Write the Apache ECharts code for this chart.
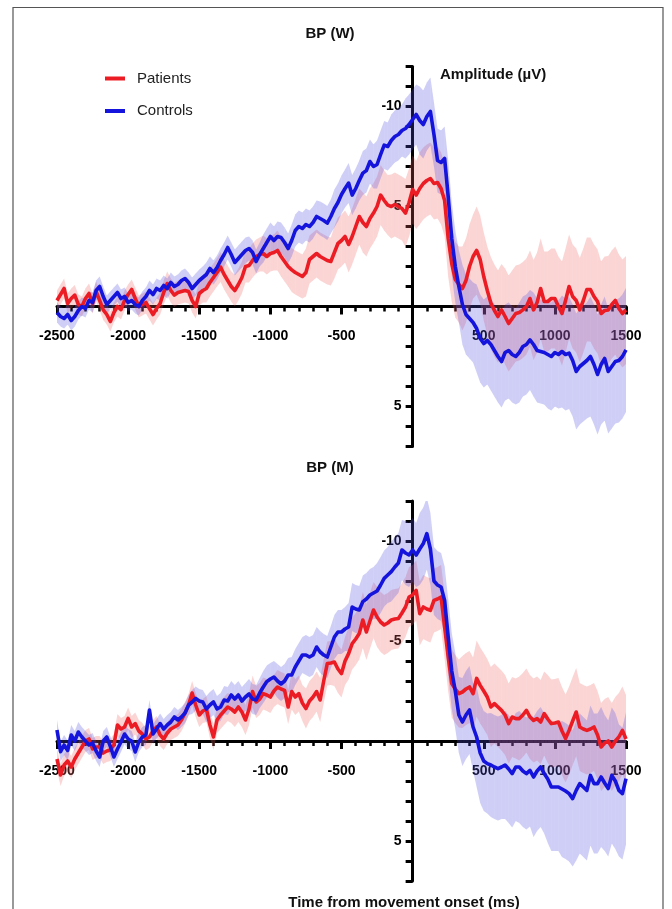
<!DOCTYPE html>
<html>
<head>
<meta charset="utf-8">
<script src="https://cdn.jsdelivr.net/npm/echarts@6/dist/echarts.min.js"></script>
<style>html,body{margin:0;padding:0;background:#fff}#c{width:672px;height:909px}</style>
</head>
<body>
<div id="c"></div>
<script>
// time grid (ms from movement onset)
const times = [
-2500,-2475,-2450,-2425,-2400,-2375,-2350,-2325,-2300,-2275,
-2250,-2225,-2200,-2175,-2150,-2125,-2100,-2075,-2050,-2025,
-2000,-1975,-1950,-1925,-1900,-1875,-1850,-1825,-1800,-1775,
-1750,-1725,-1700,-1675,-1650,-1625,-1600,-1575,-1550,-1525,
-1500,-1475,-1450,-1425,-1400,-1375,-1350,-1325,-1300,-1275,
-1250,-1225,-1200,-1175,-1150,-1125,-1100,-1075,-1050,-1025,
-1000,-975,-950,-925,-900,-875,-850,-825,-800,-775,
-750,-725,-700,-675,-650,-625,-600,-575,-550,-525,
-500,-475,-450,-425,-400,-375,-350,-325,-300,-275,
-250,-225,-200,-175,-150,-125,-100,-75,-50,-25,
0,25,50,75,100,125,150,175,200,225,
250,275,300,325,350,375,400,425,450,475,
500,525,550,575,600,625,650,675,700,725,
750,775,800,825,850,875,900,925,950,975,
1000,1025,1050,1075,1100,1125,1150,1175,1200,1225,
1250,1275,1300,1325,1350,1375,1400,1425,1450,1475,
1500];

// BP (W) – Patients mean (µV)
const wPatients = [
-0.3,-0.6,-0.9,-0.15,-0.4,-0.57,-0.1,0.0,-0.4,-0.65,
-0.15,-0.75,-0.3,0.17,0.4,0.75,0.3,0.0,0.15,-0.3,
-0.6,-0.85,-0.4,0.0,-0.1,-0.2,0.1,0.4,0.1,-0.15,
-0.7,-1.15,-0.8,-0.57,-0.7,-0.75,-0.8,-0.75,-0.3,0.0,
-0.65,-0.8,-0.9,-1.2,-1.45,-1.7,-1.97,-1.6,-1.3,-1.0,
-0.8,-1.1,-1.45,-2.0,-2.05,-2.3,-2.5,-2.6,-2.65,-2.5,
-2.65,-2.7,-2.8,-2.5,-2.25,-2.0,-1.83,-1.7,-1.6,-1.5,
-1.7,-2.35,-2.5,-2.65,-2.5,-2.4,-2.3,-2.25,-2.7,-3.15,
-3.3,-3.5,-3.1,-3.5,-4.0,-4.5,-4.2,-4.0,-4.4,-4.67,
-5.0,-5.57,-5.3,-5.07,-5.0,-5.1,-5.0,-4.9,-4.67,-5.2,
-5.85,-5.57,-5.9,-6.15,-6.3,-6.4,-6.15,-6.2,-5.9,-5.3,
-3.4,-2.15,-1.35,-1.1,-0.9,-1.3,-2.0,-2.5,-2.8,-2.35,
-1.5,-0.8,-0.17,0.2,0.5,0.17,0.5,0.85,0.6,0.35,
0.3,0.17,0.0,-0.4,0.17,-0.2,-0.9,-0.25,-0.25,-0.4,
-0.4,0.0,0.35,-0.3,-1.0,-0.5,-0.3,0.17,-0.3,-0.85,
-0.85,-0.5,-0.25,0.35,0.2,0.17,-0.1,-0.3,0.1,0.35,
0.17];

// BP (W) – Controls mean (µV)
const wControls = [
0.3,0.5,0.6,0.4,0.7,0.5,0.2,0.0,0.1,-0.3,
-0.2,-0.8,-1.0,-0.5,-0.1,-0.3,-0.5,-0.7,-0.4,-0.5,
-0.2,-0.3,-0.1,0.0,-0.3,-0.5,-0.8,-0.6,-0.9,-0.8,
-1.05,-0.9,-1.2,-1.0,-1.1,-1.3,-1.4,-1.2,-0.9,-1.1,
-1.3,-1.45,-1.6,-1.9,-1.7,-1.95,-2.3,-2.6,-2.95,-2.6,
-2.2,-2.4,-2.6,-2.8,-2.9,-2.7,-2.25,-2.6,-2.9,-3.2,
-3.5,-3.3,-3.5,-3.45,-3.2,-2.9,-3.3,-3.8,-4.0,-3.9,
-4.1,-4.0,-4.2,-4.5,-4.4,-4.3,-4.17,-4.5,-4.9,-5.2,
-5.6,-5.9,-6.17,-5.57,-5.9,-6.3,-6.67,-6.8,-7.25,-7.0,
-7.1,-7.6,-8.07,-8.0,-8.3,-8.5,-8.6,-8.8,-8.9,-9.1,
-9.35,-9.6,-9.3,-9.1,-9.5,-9.75,-8.6,-7.3,-7.2,-7.4,
-5.5,-3.4,-2.0,-1.0,-0.1,0.4,0.6,0.8,1.1,1.6,
1.85,1.7,1.9,2.2,2.5,2.75,2.3,2.2,2.4,2.5,
2.3,2.0,1.9,1.67,1.9,2.2,2.25,2.3,2.4,2.5,
2.3,2.4,2.25,2.4,2.33,2.7,3.25,3.0,2.85,2.7,
2.5,2.9,3.4,2.9,2.6,3.25,3.0,2.75,2.7,2.5,
2.17];

// BP (M) – Patients mean (µV)
const mPatients = [
0.9,1.7,1.2,1.0,1.3,0.9,0.6,0.3,0.0,-0.1,
0.4,0.3,0.3,0.6,0.5,0.45,0.2,-0.8,-0.6,-0.7,
-1.13,-0.7,-0.87,-0.5,-0.35,-0.1,-0.2,-0.5,-0.7,-0.3,
-0.1,-0.4,-0.6,-0.7,-0.8,-1.05,-1.4,-1.8,-2.4,-1.8,
-1.3,-1.5,-1.6,-0.8,-0.2,-1.05,-1.3,-1.5,-1.7,-1.6,
-1.45,-1.7,-1.45,-1.05,-1.6,-2.47,-1.95,-2.1,-2.37,-2.3,
-2.2,-2.5,-2.7,-2.6,-2.53,-1.7,-2.47,-2.2,-2.37,-1.9,
-1.62,-2.0,-2.2,-2.47,-2.05,-3.0,-3.87,-3.9,-3.95,-3.6,
-3.37,-4.0,-4.37,-4.87,-5.1,-5.37,-6.05,-5.45,-6.0,-6.55,
-6.2,-5.95,-5.8,-5.9,-6.05,-6.1,-6.13,-6.4,-6.7,-7.2,
-7.3,-7.53,-6.37,-6.7,-6.6,-6.53,-7.03,-7.1,-7.2,-5.7,
-4.2,-2.87,-2.6,-2.37,-2.45,-2.6,-2.7,-2.37,-3.13,-2.78,
-2.5,-2.2,-1.7,-1.87,-1.7,-1.53,-1.3,-0.87,-1.2,-1.12,
-1.12,-1.3,-1.53,-1.2,-1.03,-1.12,-0.95,-1.37,-1.1,-0.87,
-0.9,-0.95,-0.5,-0.12,-0.53,-1.0,-1.45,-0.7,-0.6,-0.53,
-0.6,-0.7,-0.3,0.3,0.1,0.0,0.3,0.0,-0.2,-0.53,
-0.1];

// BP (M) – Controls mean (µV)
const mControls = [
-0.55,0.53,0.2,0.47,-0.3,0.0,-0.45,-0.2,0.0,0.2,
0.1,0.5,0.8,0.0,-0.2,0.27,0.8,0.4,0.05,-0.35,
-0.1,0.0,0.55,0.05,-0.2,-0.3,-1.55,-0.35,-0.6,-0.87,
-0.6,-0.8,-0.95,-1.2,-1.05,-1.2,-1.4,-1.8,-1.95,-2.13,
-2.0,-1.95,-1.6,-1.8,-1.95,-1.6,-1.7,-2.05,-2.0,-2.3,
-2.1,-2.3,-2.0,-2.2,-2.35,-2.1,-2.05,-2.4,-2.7,-2.97,
-3.1,-3.2,-3.0,-2.85,-3.0,-3.3,-3.3,-3.7,-4.0,-4.3,
-4.3,-4.2,-4.3,-4.7,-4.45,-4.3,-4.2,-4.7,-5.2,-5.45,
-5.45,-5.6,-5.7,-6.7,-6.6,-6.55,-6.97,-7.1,-7.3,-7.4,
-7.5,-7.8,-8.13,-8.3,-8.47,-8.7,-8.9,-9.55,-9.4,-9.3,
-9.55,-9.3,-9.6,-9.87,-10.37,-9.6,-8.0,-7.8,-7.7,-7.03,
-5.2,-3.5,-2.5,-1.3,-0.95,-1.3,-1.55,-0.7,-0.2,0.6,
1.0,1.13,1.2,1.3,1.38,1.3,1.2,1.4,1.63,1.3,
1.3,1.5,1.63,1.47,1.8,1.5,1.3,1.63,1.9,2.3,
2.3,2.3,2.4,2.5,2.63,2.88,2.47,2.13,2.3,2.47,
1.72,2.13,2.13,1.8,2.1,2.38,1.72,2.0,2.47,2.63,
1.88];

// SEM half-widths (µV), one per 100 ms block
const semTimes = [-2500,-2400,-2300,-2200,-2100,-2000,-1900,-1800,-1700,-1600,
-1500,-1400,-1300,-1200,-1100,-1000,-900,-800,-700,-600,
-500,-400,-300,-200,-100,0,100,200,300,400,
500,600,700,800,900,1000,1100,1200,1300,1400,1500];
const wPatientsSem = [0.5,0.5,0.5,0.5,0.5,0.5,0.55,0.55,0.6,0.6,
0.6,0.7,0.75,0.8,0.85,0.9,1.0,1.1,1.2,1.2,
1.3,1.4,1.5,1.5,1.6,1.7,1.8,1.8,1.9,2.1,
2.2,2.3,2.4,2.4,2.5,2.5,2.6,2.6,2.6,2.7,2.7];
const wControlsSem = [0.5,0.5,0.45,0.5,0.45,0.45,0.45,0.5,0.5,0.5,
0.55,0.6,0.6,0.65,0.6,0.7,0.75,0.8,0.8,0.85,
0.95,1.0,1.1,1.2,1.3,1.5,1.7,1.6,1.8,2.0,
2.2,2.3,2.4,2.5,2.6,2.7,2.8,2.9,3.0,3.1,3.1];
const mPatientsSem = [0.55,0.55,0.55,0.55,0.55,0.55,0.55,0.55,0.55,0.55,
0.6,0.65,0.7,0.75,0.8,0.8,0.85,0.9,1.0,1.1,
1.2,1.3,1.4,1.5,1.5,1.5,1.6,1.6,1.7,1.8,
1.9,2.0,2.0,2.1,2.1,2.2,2.2,2.2,2.2,2.2,2.2];
const mControlsSem = [0.5,0.5,0.5,0.5,0.5,0.5,0.5,0.5,0.5,0.5,
0.6,0.65,0.7,0.7,0.75,0.8,0.85,0.9,1.0,1.05,
1.1,1.2,1.3,1.4,1.5,1.6,1.8,1.7,1.9,2.2,
2.5,2.6,2.7,2.8,3.0,3.2,3.4,3.5,3.5,3.4,3.3];

const xTicks = {min: -2500, max: 1500, step: 500};
const yRange = {min: -12, max: 7, step: 1};

const RED = '#ec1c24', BLUE = '#1414dc';
const RED_BAND = 'rgba(240,95,95,0.27)', BLUE_BAND = 'rgba(80,80,228,0.28)';
const FONT = '"Liberation Sans", Arial, sans-serif';
const GRID_W = 569, GRID_H = 380;

function semAt(sem, t) { return sem[Math.round((t - semTimes[0]) / 100)]; }
function pairs(vals) { return times.map((t, i) => [t, vals[i]]); }

// mean ± SEM band, drawn as one quad per time step through the axis scales
function bandSeries(vals, sem, color, gi) {
  const data = times.slice(0, -1).map((t, i) => {
    const t2 = times[i + 1];
    return [t, t2, vals[i] - semAt(sem, t), vals[i] + semAt(sem, t),
            vals[i + 1] - semAt(sem, t2), vals[i + 1] + semAt(sem, t2)];
  });
  return {type: 'custom', xAxisIndex: gi, yAxisIndex: gi, silent: true, clip: true, animation: false,
    data: data, encode: {x: [0, 1], y: [2, 3, 4, 5]},
    renderItem: (params, api) => {
      const a = api.coord([api.value(0), api.value(2)]);
      const b = api.coord([api.value(0), api.value(3)]);
      const c = api.coord([api.value(1), api.value(5)]);
      const d = api.coord([api.value(1), api.value(4)]);
      return {type: 'polygon', shape: {points: [a, b, c, d]}, style: {fill: color}};
    }};
}
function lineSeries(vals, name, color, gi) {
  return {type: 'line', name: name, data: pairs(vals), xAxisIndex: gi, yAxisIndex: gi,
    symbol: 'none', showSymbol: false, color: color,
    lineStyle: {color: color, width: 3.6, join: 'round'}, emphasis: {disabled: true}, animation: false};
}
// axes cross at (0 ms, 0 µV): shift them from the grid edges to the zero lines
const xShift = -(yRange.max - 0) / (yRange.max - yRange.min) * GRID_H;
const yShift = -(0 - xTicks.min) / (xTicks.max - xTicks.min) * GRID_W;
function xAxis(gi) {
  return {gridIndex: gi, type: 'value', position: 'bottom', offset: xShift,
    min: xTicks.min, max: xTicks.max, interval: xTicks.step,
    axisLine: {show: true, onZero: false, lineStyle: {color: '#000', width: 3}},
    axisTick: {show: true, length: 8, lineStyle: {color: '#000', width: 3}},
    minorTick: {show: true, splitNumber: 5, length: 5, lineStyle: {color: '#000', width: 2.5}},
    splitLine: {show: false}, minorSplitLine: {show: false},
    axisLabel: {margin: 23, color: '#000', fontFamily: FONT, fontWeight: 'bold', fontSize: 14,
      formatter: v => v === 0 ? '' : String(v)}};
}
function yAxis(gi) {
  return {gridIndex: gi, type: 'value', position: 'left', offset: yShift, inverse: true,
    min: yRange.min, max: yRange.max, interval: yRange.step,
    axisLine: {show: true, onZero: false, lineStyle: {color: '#000', width: 3}},
    axisTick: {show: true, length: 7, lineStyle: {color: '#000', width: 3}},
    splitLine: {show: false},
    axisLabel: {margin: 11, color: '#000', fontFamily: FONT, fontWeight: 'bold', fontSize: 14,
      formatter: v => (v !== 0 && v % 5 === 0) ? String(v) : ''}};
}
const titleStyle = {fontSize: 15, fontWeight: 'bold', fontFamily: FONT, color: '#111'};

const chart = echarts.init(document.getElementById('c'), null, {renderer: 'canvas'});
chart.setOption({
  backgroundColor: '#fff',
  animation: false,
  title: [
    {text: 'BP (W)', left: 330, top: 26.5, textAlign: 'center', padding: 0, textStyle: titleStyle},
    {text: 'BP (M)', left: 330, top: 460.5, textAlign: 'center', padding: 0, textStyle: titleStyle},
    {text: 'Amplitude (µV)', left: 440, top: 67.5, textAlign: 'left', padding: 0, textStyle: titleStyle},
    {text: 'Time from movement onset (ms)', left: 404, top: 895.5, textAlign: 'center', padding: 0, textStyle: titleStyle}
  ],
  legend: {left: 105, top: 71, orient: 'vertical', padding: 0, itemWidth: 20, itemHeight: 4, itemGap: 17.5,
    textStyle: {fontSize: 15, fontFamily: FONT, color: '#222', padding: [0, 0, 0, 7]},
    data: [{name: 'Patients', icon: 'rect'}, {name: 'Controls', icon: 'rect'}], selectedMode: false},
  grid: [
    {left: 57, width: GRID_W, top: 66.5, height: GRID_H, outerBoundsMode: 'none', containLabel: false},
    {left: 57, width: GRID_W, top: 501, height: GRID_H, outerBoundsMode: 'none', containLabel: false}
  ],
  xAxis: [xAxis(0), xAxis(1)],
  yAxis: [yAxis(0), yAxis(1)],
  graphic: [{type: 'rect', silent: true, z: -10, shape: {x: 13, y: 7.5, width: 650, height: 930},
    style: {fill: 'none', stroke: '#555', lineWidth: 1.2}}],
  series: [
    bandSeries(wPatients, wPatientsSem, RED_BAND, 0),
    lineSeries(wPatients, 'Patients', RED, 0),
    bandSeries(wControls, wControlsSem, BLUE_BAND, 0),
    lineSeries(wControls, 'Controls', BLUE, 0),
    bandSeries(mPatients, mPatientsSem, RED_BAND, 1),
    lineSeries(mPatients, 'Patients', RED, 1),
    bandSeries(mControls, mControlsSem, BLUE_BAND, 1),
    lineSeries(mControls, 'Controls', BLUE, 1)
  ]
});
</script>
</body>
</html>
